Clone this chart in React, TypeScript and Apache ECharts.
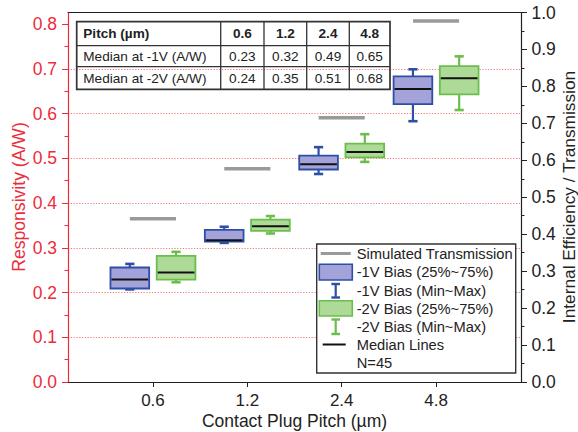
import React, { useEffect, useRef } from "react";
import * as echarts from "echarts";

// ---------- data ----------
const pitchLabels = ["0.6", "1.2", "2.4", "4.8"];
const pitchPositions = [1, 2, 3, 4];

// -1V bias (A/W)
const bias1Min = [0.207, 0.311, 0.465, 0.583];
const bias1Q1 = [0.209, 0.314, 0.475, 0.621];
const bias1Med = [0.229, 0.317, 0.487, 0.655];
const bias1Q3 = [0.256, 0.34, 0.506, 0.683];
const bias1Max = [0.264, 0.347, 0.525, 0.699];

// -2V bias (A/W)
const bias2Min = [0.223, 0.332, 0.492, 0.608];
const bias2Q1 = [0.229, 0.338, 0.502, 0.643];
const bias2Med = [0.245, 0.348, 0.514, 0.679];
const bias2Q3 = [0.282, 0.363, 0.533, 0.706];
const bias2Max = [0.291, 0.371, 0.554, 0.728];

// simulated transmission (right axis)
const simTransmission = [0.442, 0.577, 0.715, 0.977];

// table medians
const tableHeader = ["Pitch (µm)", "0.6", "1.2", "2.4", "4.8"];
const medianBias1 = ["0.23", "0.32", "0.49", "0.65"];
const medianBias2 = ["0.24", "0.35", "0.51", "0.68"];

// tick values
const respTicks = [0, 0.1, 0.2, 0.3, 0.4, 0.5, 0.6, 0.7, 0.8];
const respMinorTicks = [0.05, 0.15, 0.25, 0.35, 0.45, 0.55, 0.65, 0.75];

// legend labels
const legendLabels = [
  "Simulated Transmission",
  "-1V Bias (25%~75%)",
  "-1V Bias (Min~Max)",
  "-2V Bias (25%~75%)",
  "-2V Bias (Min~Max)",
  "Median Lines",
  "N=45",
];

// ---------- styles ----------
const FONT = '"Liberation Sans", Arial, sans-serif';
const RED = "#EE2B3B";
const DARK = "#222222";
const BLUE_FILL = "#A3A3D9";
const BLUE_EDGE = "#2F4FA6";
const GREEN_FILL = "#AEDA98";
const GREEN_EDGE = "#6BBE4C";
const GRAY = "#9A9A9A";

const BOX_OFFSET = 0.245;
const BOX_WIDTH = 0.41;
const SIM_HALF = 0.244;

function boxRenderer(fill: string, edge: string) {
  return (params: any, api: any) => {
    const x = api.value(0);
    const pMin = api.coord([x, api.value(1)]);
    const pQ1 = api.coord([x, api.value(2)]);
    const pMed = api.coord([x, api.value(3)]);
    const pQ3 = api.coord([x, api.value(4)]);
    const pMax = api.coord([x, api.value(5)]);
    const w = api.size([BOX_WIDTH, 0])[0];
    const cx = pMed[0];
    const cap = 4.6;
    return {
      type: "group",
      children: [
        { type: "line", shape: { x1: cx, y1: pMax[1], x2: cx, y2: pQ3[1] }, style: { stroke: edge, lineWidth: 2.2 } },
        { type: "line", shape: { x1: cx, y1: pQ1[1], x2: cx, y2: pMin[1] }, style: { stroke: edge, lineWidth: 2.2 } },
        { type: "line", shape: { x1: cx - cap, y1: pMax[1], x2: cx + cap, y2: pMax[1] }, style: { stroke: edge, lineWidth: 2.6 } },
        { type: "line", shape: { x1: cx - cap, y1: pMin[1], x2: cx + cap, y2: pMin[1] }, style: { stroke: edge, lineWidth: 2.6 } },
        {
          type: "rect",
          shape: { x: cx - w / 2, y: pQ3[1], width: w, height: pQ1[1] - pQ3[1] },
          style: { fill, stroke: edge, lineWidth: 1.8 },
        },
        { type: "line", shape: { x1: cx - w / 2 + 1, y1: pMed[1], x2: cx + w / 2 - 1, y2: pMed[1] }, style: { stroke: "#111", lineWidth: 2 } },
      ],
    };
  };
}

function buildTable(): any[] {
  const cols = [76.7, 220.7, 264, 306.7, 349.3, 390];
  const rows = [21.7, 45.7, 66.7, 89.3];
  const els: any[] = [];
  const z = 50;
  els.push({
    type: "rect",
    z,
    shape: { x: cols[0], y: rows[0], width: cols[5] - cols[0], height: rows[3] - rows[0] },
    style: { fill: "none", stroke: "#333", lineWidth: 1.7 },
  });
  for (let i = 1; i < cols.length - 1; i++) {
    els.push({ type: "line", z, shape: { x1: cols[i], y1: rows[0], x2: cols[i], y2: rows[3] }, style: { stroke: "#333", lineWidth: 1.3 } });
  }
  for (let j = 1; j < rows.length - 1; j++) {
    els.push({ type: "line", z, shape: { x1: cols[0], y1: rows[j], x2: cols[5], y2: rows[j] }, style: { stroke: "#333", lineWidth: 1.3 } });
  }
  const rowData = [
    { cells: tableHeader, bold: true },
    { cells: ["Median at -1V (A/W)", ...medianBias1], bold: false },
    { cells: ["Median at -2V (A/W)", ...medianBias2], bold: false },
  ];
  rowData.forEach((r, j) => {
    const cy = (rows[j] + rows[j + 1]) / 2;
    r.cells.forEach((t, i) => {
      els.push({
        type: "text",
        z: z + 1,
        x: i === 0 ? cols[0] + 6.6 : (cols[i] + cols[i + 1]) / 2,
        y: cy,
        style: {
          text: t,
          fill: DARK,
          fontSize: 13.6,
          fontFamily: FONT,
          fontWeight: r.bold ? "bold" : "normal",
          align: i === 0 ? "left" : "center",
          verticalAlign: "middle",
        },
      });
    });
  });
  return els;
}

function buildLegend(): any[] {
  const z = 100;
  const els: any[] = [];
  els.push({
    type: "rect",
    z,
    shape: { x: 316.7, y: 244, width: 199, height: 129 },
    style: { fill: "#fff", stroke: "#333", lineWidth: 1.4 },
  });
  const rowsY = [253.5, 272.3, 290.8, 309, 327, 345, 362.5];
  const textX = 356.7;
  legendLabels.forEach((t, i) => {
    els.push({
      type: "text",
      z: z + 1,
      x: textX,
      y: rowsY[i],
      style: { text: t, fill: DARK, fontSize: 14.7, fontFamily: FONT, align: "left", verticalAlign: "middle" },
    });
  });
  // gray line
  els.push({ type: "line", z: z + 1, shape: { x1: 320.7, y1: rowsY[0], x2: 350.7, y2: rowsY[0] }, style: { stroke: GRAY, lineWidth: 3 } });
  // blue box
  els.push({ type: "rect", z: z + 1, shape: { x: 319.3, y: 264.3, width: 33, height: 15.7 }, style: { fill: BLUE_FILL, stroke: BLUE_EDGE, lineWidth: 1.6 } });
  // whisker icons
  const whisker = (y1: number, y2: number, color: string) => {
    const cx = 335.7;
    els.push({ type: "line", z: z + 1, shape: { x1: cx, y1, x2: cx, y2 }, style: { stroke: color, lineWidth: 2.2 } });
    els.push({ type: "line", z: z + 1, shape: { x1: cx - 4.3, y1, x2: cx + 4.3, y2: y1 }, style: { stroke: color, lineWidth: 2.4 } });
    els.push({ type: "line", z: z + 1, shape: { x1: cx - 4.3, y1: y2, x2: cx + 4.3, y2 }, style: { stroke: color, lineWidth: 2.4 } });
  };
  whisker(284, 297.5, BLUE_EDGE);
  els.push({ type: "rect", z: z + 1, shape: { x: 319.3, y: 300.7, width: 33, height: 15.3 }, style: { fill: GREEN_FILL, stroke: GREEN_EDGE, lineWidth: 1.6 } });
  whisker(319.5, 334, GREEN_EDGE);
  els.push({ type: "line", z: z + 1, shape: { x1: 322.7, y1: 344.5, x2: 345.7, y2: 344.5 }, style: { stroke: "#111", lineWidth: 2 } });
  return els;
}

function buildTitles(): any[] {
  return [
    {
      type: "text",
      x: 18.5,
      y: 197,
      rotation: Math.PI / 2,
      style: { text: "Responsivity (A/W)", fill: RED, fontSize: 17.6, fontFamily: FONT, align: "center", verticalAlign: "middle" },
    },
    {
      type: "text",
      x: 568.8,
      y: 197,
      rotation: Math.PI / 2,
      style: { text: "Internal Efficiency / Transmission", fill: DARK, fontSize: 17.3, fontFamily: FONT, align: "center", verticalAlign: "middle" },
    },
    {
      type: "text",
      x: 294.5,
      y: 420.5,
      style: { text: "Contact Plug Pitch (µm)", fill: DARK, fontSize: 17.5, fontFamily: FONT, align: "center", verticalAlign: "middle" },
    },
  ];
}

export default function App() {
  const ref = useRef<HTMLDivElement>(null);
  useEffect(() => {
    if (!ref.current) return;
    const chart = echarts.init(ref.current, null, { renderer: "svg" });
    const bias1Data = pitchPositions.map((p, i) => [p - BOX_OFFSET, bias1Min[i], bias1Q1[i], bias1Med[i], bias1Q3[i], bias1Max[i]]);
    const bias2Data = pitchPositions.map((p, i) => [p + BOX_OFFSET, bias2Min[i], bias2Q1[i], bias2Med[i], bias2Q3[i], bias2Max[i]]);
    const simData = pitchPositions.map((p, i) => [p, simTransmission[i]]);

    chart.setOption({
      animation: false,
      backgroundColor: "#fff",
      textStyle: { fontFamily: FONT },
      grid: { left: 68, top: 12.5, width: 453, height: 369.5, containLabel: false },
      xAxis: [
        {
          type: "value",
          position: "bottom",
          min: 0.1,
          max: 4.9,
          axisLine: { show: true, onZero: false, lineStyle: { color: DARK, width: 1 } },
          axisTick: { show: true, customValues: pitchPositions, length: 5, lineStyle: { color: DARK, width: 1 } },
          axisLabel: {
            show: true,
            customValues: pitchPositions,
            formatter: (v: number) => pitchLabels[Math.round(v) - 1] ?? "",
            fontSize: 17,
            color: DARK,
            fontFamily: FONT,
            margin: 9.5,
          },
          splitLine: { show: false },
        },
        {
          type: "value",
          position: "top",
          min: 0.1,
          max: 4.9,
          axisLine: { show: true, onZero: false, lineStyle: { color: DARK, width: 1 } },
          axisTick: { show: false },
          axisLabel: { show: false },
          splitLine: { show: false },
        },
      ],
      yAxis: [
        {
          type: "value",
          position: "left",
          min: 0,
          max: 0.826,
          interval: 0.1,
          axisLine: { show: true, onZero: false, lineStyle: { color: RED, width: 1.2 } },
          axisTick: { show: true, customValues: respTicks, length: 6, lineStyle: { color: RED, width: 1 } },
          axisLabel: {
            show: true,
            customValues: respTicks,
            formatter: (v: number) => v.toFixed(1),
            fontSize: 17.5,
            color: RED,
            fontFamily: FONT,
            margin: 11,
          },
          splitLine: { show: true, showMinLine: false, showMaxLine: false, lineStyle: { color: "#F07A7A", type: [1.2, 1.6], width: 1 } },
        },
        {
          type: "value",
          position: "left",
          min: 0,
          max: 0.826,
          axisLine: { show: false },
          axisTick: { show: true, customValues: respMinorTicks, length: 3.5, lineStyle: { color: RED, width: 1 } },
          axisLabel: { show: false },
          splitLine: { show: false },
        },
        {
          type: "value",
          position: "right",
          min: 0,
          max: 1,
          interval: 0.1,
          axisLine: { show: true, onZero: false, lineStyle: { color: DARK, width: 1.2 } },
          axisTick: { show: true, length: 6, lineStyle: { color: DARK, width: 1 } },
          minorTick: { show: true, splitNumber: 2, length: 3.5, lineStyle: { color: DARK, width: 1 } },
          axisLabel: { show: true, formatter: (v: number) => v.toFixed(1), fontSize: 17.5, color: DARK, fontFamily: FONT, margin: 10.5 },
          splitLine: { show: false },
        },
      ],
      series: [
        {
          type: "custom",
          name: "Simulated Transmission",
          xAxisIndex: 0,
          yAxisIndex: 2,
          data: simData,
          encode: { x: 0, y: 1 },
          renderItem: (params: any, api: any) => {
            const x = api.value(0);
            const y = api.value(1);
            const a = api.coord([x - SIM_HALF, y]);
            const b = api.coord([x + SIM_HALF, y]);
            return { type: "line", shape: { x1: a[0], y1: a[1], x2: b[0], y2: b[1] }, style: { stroke: GRAY, lineWidth: 3.4 } };
          },
        },
        {
          type: "custom",
          name: "-1V Bias",
          xAxisIndex: 0,
          yAxisIndex: 0,
          data: bias1Data,
          encode: { x: 0, y: [1, 2, 3, 4, 5] },
          renderItem: boxRenderer(BLUE_FILL, BLUE_EDGE),
        },
        {
          type: "custom",
          name: "-2V Bias",
          xAxisIndex: 0,
          yAxisIndex: 0,
          data: bias2Data,
          encode: { x: 0, y: [1, 2, 3, 4, 5] },
          renderItem: boxRenderer(GREEN_FILL, GREEN_EDGE),
        },
      ],
      graphic: [...buildTable(), ...buildLegend(), ...buildTitles()],
    });
    return () => chart.dispose();
  }, []);
  return <div ref={ref} style={{ position: "absolute", left: 0, top: 0, width: 578, height: 432 }} />;
}
